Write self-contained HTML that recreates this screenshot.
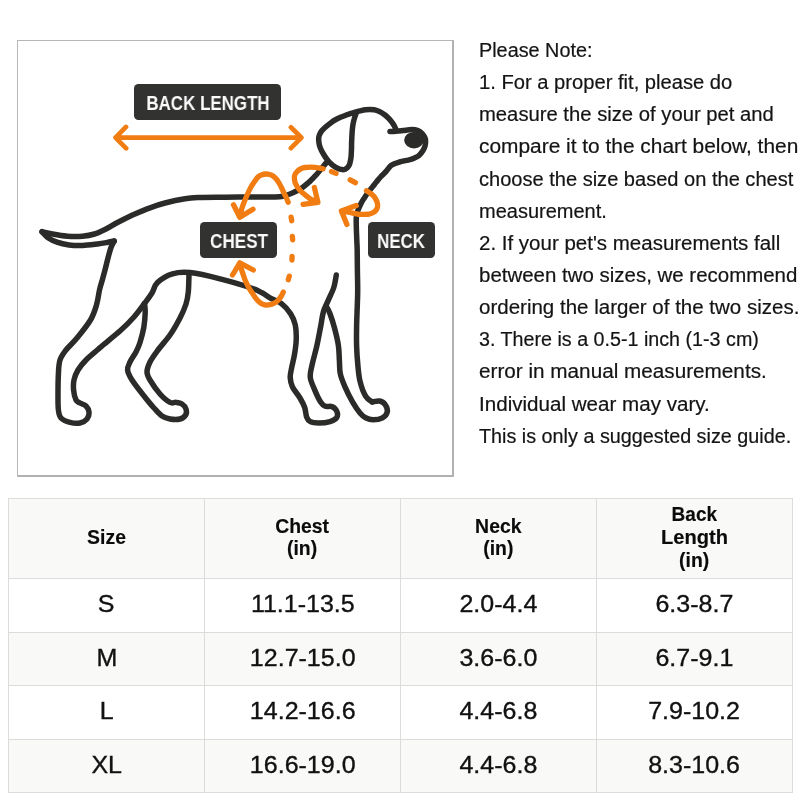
<!DOCTYPE html>
<html><head><meta charset="utf-8"><title>Size Guide</title>
<style>
*{margin:0;padding:0;box-sizing:border-box}
html,body{width:800px;height:800px;background:#fff;overflow:hidden}
body{position:relative;font-family:"Liberation Sans",sans-serif;color:#111}
.abs{position:absolute}
.box{left:17px;top:40px;width:437px;height:437px;border:solid #b6b6b8;border-width:1px 2px 2px 1px;border-right-color:#b1b1b1;border-bottom-color:#b1b1b1;border-radius:1px;background:#fff}
.ln{position:absolute;left:479.2px;white-space:nowrap;font-size:19.5px;line-height:24px;height:24px;color:#141414;-webkit-text-stroke:0.2px #141414}
.ln span{display:inline-block;transform-origin:0 50%}
.ln,.lt,table{will-change:transform}
.lbl{position:absolute;background:#323231;border-radius:4.5px}
.lt{position:absolute;width:0;white-space:nowrap;color:#fbfbfb;font-weight:bold}
.lt span{display:inline-block;transform-origin:50% 50%}
table{position:absolute;left:8px;top:498px;border-collapse:collapse;table-layout:fixed}
td,th{border:1px solid #dcdcdc;text-align:center;vertical-align:middle;padding:0}
th{background:#f9f9f8;font-size:19.5px;line-height:22.7px;font-weight:bold;height:80px;color:#0b0b0b;padding-bottom:2.6px;-webkit-text-stroke:0.15px #0b0b0b}
td{font-size:24px;height:54px;color:#111;padding-bottom:3.0px;-webkit-text-stroke:0.35px #111}
tr.g td{background:#f9f9f8;height:53px}
td span,th span{display:inline-block;transform-origin:50% 50%}
td span{transform:scaleX(1.042)}
th span{transform:scaleX(0.995)}
</style></head>
<body>
<div class="abs box"></div>
<svg class="abs" style="left:0;top:0" width="480" height="480" viewBox="0 0 480 480">
<g fill="none" stroke="#2b2b2a" stroke-width="5.5" stroke-linecap="round" stroke-linejoin="round">
<path d="M42.0 231.7 C43.8 232.1 48.2 233.2 52.5 234.0 C56.8 234.8 62.5 235.8 67.5 236.2 C72.5 236.6 78.0 236.6 82.5 236.2 C87.0 235.8 90.8 235.1 94.5 234.0 C98.2 232.9 101.2 231.4 105.0 229.5 C108.8 227.6 112.5 225.1 117.0 222.8 C121.5 220.4 126.5 217.8 132.0 215.2 C137.5 212.8 144.5 209.8 150.0 207.8 C155.5 205.7 159.2 204.5 165.0 203.0 C170.8 201.5 179.2 199.7 185.0 198.8 C190.8 197.8 193.3 197.8 200.0 197.5 C206.7 197.2 215.8 197.3 225.0 197.2 C234.2 197.1 246.7 197.1 255.0 197.0 C263.3 196.9 270.3 197.0 275.0 196.9 C279.7 196.8 280.5 196.7 283.0 196.2 C285.5 195.7 287.8 194.8 290.0 194.0 C292.2 193.2 293.9 192.4 296.0 191.3 C298.1 190.2 300.5 188.9 302.5 187.5 C304.5 186.1 306.3 184.5 308.0 183.0 C309.7 181.5 311.0 180.2 312.5 178.8 C314.0 177.2 315.5 175.7 317.0 174.0 C318.5 172.3 319.5 170.9 321.2 168.8 C323.0 166.6 326.5 162.5 327.5 161.2"/>
<path d="M42.0 231.7 C43.0 232.7 45.5 236.0 48.0 237.8 C50.5 239.5 53.5 241.0 57.0 242.2 C60.5 243.5 64.8 244.5 69.0 245.0 C73.2 245.5 77.8 245.7 82.5 245.5 C87.2 245.3 93.2 244.5 97.5 244.0 C101.8 243.5 105.2 242.8 108.0 242.3 C110.8 241.8 113.2 241.2 114.2 241.0"/>
<path d="M114.2 241.0 C113.7 242.1 112.0 244.7 111.0 247.5 C110.0 250.3 109.0 254.2 108.0 258.0 C107.0 261.8 106.0 266.2 105.0 270.0 C104.0 273.8 102.9 277.7 102.0 281.0 C101.1 284.3 100.4 286.0 99.5 290.0 C98.6 294.0 98.0 300.0 96.5 305.0 C95.0 310.0 93.8 314.5 90.5 320.0 C87.2 325.5 81.1 333.0 77.0 338.0 C72.9 343.0 68.8 346.3 66.0 350.0 C63.2 353.7 61.3 356.0 60.0 360.0 C58.7 364.0 58.7 368.3 58.4 374.0 C58.1 379.7 58.0 388.0 58.0 394.0 C58.0 400.0 57.9 406.0 58.4 410.0 C58.9 414.0 59.1 415.9 61.0 418.0 C62.9 420.1 66.8 421.6 70.0 422.4 C73.2 423.2 77.2 423.6 80.0 423.0 C82.8 422.4 85.5 420.8 87.0 419.0 C88.5 417.2 89.2 414.2 89.0 412.0 C88.8 409.8 87.5 407.5 86.0 406.0 C84.5 404.5 81.7 404.0 80.0 403.0 C78.3 402.0 77.1 402.2 76.0 400.0 C74.9 397.8 73.9 393.3 73.6 390.0 C73.3 386.7 73.3 383.3 74.0 380.0 C74.7 376.7 76.0 373.3 78.0 370.0 C80.0 366.7 82.7 363.4 86.0 360.0 C89.3 356.6 95.2 351.9 98.0 349.5 C100.8 347.1 98.8 348.7 102.5 345.5 C106.2 342.3 115.2 335.2 120.5 330.5 C125.8 325.8 130.0 321.5 134.0 317.0 C138.0 312.5 141.5 307.5 144.5 303.5 C147.5 299.5 149.8 296.5 152.0 293.0 C154.2 289.5 154.1 285.7 157.5 282.5 C160.9 279.3 167.1 275.4 172.5 273.8 C177.9 272.1 182.1 271.7 190.0 272.5 C197.9 273.3 210.0 276.2 220.0 278.8 C230.0 281.2 243.0 285.2 250.0 287.5 C257.0 289.8 258.7 291.1 262.0 292.8 C265.3 294.5 266.8 296.0 270.0 297.8 C273.2 299.6 277.8 300.7 281.2 303.4 C284.7 306.1 288.3 310.1 290.6 313.8 C292.9 317.4 294.4 320.6 295.3 325.0 C296.2 329.4 296.4 335.0 296.2 340.0 C296.1 345.0 295.2 350.3 294.4 355.0 C293.6 359.7 292.3 364.2 291.6 368.0 C290.9 371.8 290.1 374.3 290.2 377.5 C290.4 380.7 290.9 383.6 292.5 387.0 C294.1 390.4 298.0 394.6 300.0 398.0 C302.0 401.4 303.6 404.3 304.7 407.5 C305.8 410.7 305.7 414.6 306.6 417.0 C307.5 419.4 308.3 420.6 310.3 421.6 C312.3 422.6 315.5 423.0 318.8 423.0 C322.0 423.0 327.0 422.5 330.0 421.6 C333.0 420.7 335.5 419.5 336.6 417.8 C337.7 416.1 337.6 413.1 336.8 411.2 C336.0 409.4 333.8 407.4 331.9 406.6 C330.0 405.8 327.2 407.1 325.3 406.3 C323.4 405.5 322.3 404.6 320.6 402.0 C318.9 399.4 316.7 394.7 315.0 390.6 C313.3 386.5 310.8 381.9 310.3 377.5 C309.8 373.1 311.1 369.7 312.2 364.4 C313.3 359.1 315.5 351.9 316.9 345.6 C318.3 339.4 319.5 332.5 320.6 326.9 C321.7 321.3 322.1 316.3 323.4 311.9 C324.6 307.5 326.4 304.7 328.1 300.6 C329.8 296.5 332.4 291.8 333.8 287.5 C335.1 283.2 335.9 277.1 336.3 275.0"/>
<path d="M144.5 303.5 C144.6 305.0 145.4 308.5 145.2 312.5 C145.1 316.5 144.6 322.5 143.8 327.5 C142.9 332.5 141.3 338.4 140.0 342.5 C138.7 346.6 137.7 348.8 136.0 352.0 C134.3 355.2 131.4 359.0 130.0 362.0 C128.6 365.0 127.3 367.0 127.6 370.0 C127.9 373.0 129.3 375.7 132.0 380.0 C134.7 384.3 140.3 391.3 144.0 396.0 C147.7 400.7 151.0 404.7 154.0 408.0 C157.0 411.3 159.3 414.2 162.0 416.0 C164.7 417.8 167.0 418.5 170.0 419.0 C173.0 419.5 177.4 419.7 180.0 419.0 C182.6 418.3 184.6 416.7 185.6 415.0 C186.6 413.3 186.6 410.8 186.0 409.0 C185.4 407.2 183.7 405.1 182.0 404.0 C180.3 402.9 178.0 402.7 176.0 402.4 C174.0 402.1 172.7 403.8 170.0 402.4 C167.3 401.0 163.3 397.7 160.0 394.0 C156.7 390.3 152.2 383.7 150.0 380.0 C147.8 376.3 147.0 375.0 147.0 372.0 C147.0 369.0 148.2 365.7 150.0 362.0 C151.8 358.3 154.7 354.5 158.0 350.0 C161.3 345.5 166.3 340.3 170.0 335.0 C173.7 329.7 177.3 323.2 180.0 318.0 C182.7 312.8 184.6 308.3 186.0 304.0 C187.4 299.7 187.8 297.0 188.3 292.0 C188.8 287.0 188.9 277.0 189.0 274.0"/>
<path d="M326.2 306.2 C326.9 307.5 328.6 310.0 330.0 313.8 C331.4 317.5 333.3 323.4 334.7 328.8 C336.1 334.1 337.6 340.3 338.4 345.6 C339.2 350.9 339.1 355.9 339.4 360.6 C339.7 365.3 339.4 369.4 340.3 373.8 C341.2 378.1 343.0 382.2 345.0 386.9 C347.0 391.6 350.0 397.5 352.5 401.9 C355.0 406.2 357.8 410.4 360.0 413.0 C362.2 415.6 363.4 416.7 365.6 417.8 C367.8 418.9 370.3 419.7 373.1 419.7 C375.9 419.7 380.1 419.1 382.5 417.8 C384.9 416.6 386.7 414.4 387.2 412.2 C387.7 410.0 386.6 406.6 385.3 404.7 C384.1 402.8 381.9 401.5 379.7 401.0 C377.5 400.5 373.4 401.8 372.2 401.9"/>
<path d="M390.0 131.5 C391.0 131.5 393.8 131.5 396.0 131.3 C398.2 131.2 400.4 130.9 403.0 130.6 C405.6 130.3 409.1 129.6 411.6 129.6 C414.1 129.6 416.2 129.9 418.0 130.6 C419.8 131.3 421.1 132.4 422.2 133.6 C423.3 134.8 424.2 136.2 424.8 137.5 C425.4 138.8 425.6 140.1 425.6 141.5 C425.6 142.9 425.4 144.5 425.0 146.0 C424.6 147.5 424.0 148.9 423.0 150.5 C422.0 152.1 420.4 154.2 419.0 155.5 C417.6 156.8 416.0 157.3 414.5 158.0 C413.0 158.7 412.5 158.9 410.0 159.6 C407.5 160.3 402.5 161.1 399.4 162.0 C396.3 162.9 393.5 163.7 391.3 165.3 C389.1 166.9 387.7 169.7 386.0 171.5 C384.3 173.3 382.8 174.6 381.2 176.2 C379.7 177.9 378.3 179.7 376.8 181.5 C375.3 183.3 374.0 185.0 372.5 186.9 C371.0 188.8 369.5 190.7 368.0 192.7 C366.5 194.7 365.0 196.8 363.8 198.8 C362.5 200.7 361.4 202.6 360.5 204.5 C359.6 206.4 358.8 208.2 358.1 210.0 C357.5 211.8 356.9 213.3 356.6 215.0 C356.3 216.7 356.3 217.5 356.2 220.0 C356.2 222.5 356.3 226.7 356.4 230.0 C356.5 233.3 356.7 236.7 356.8 240.0 C356.9 243.3 357.1 245.0 357.2 250.0 C357.3 255.0 357.3 263.3 357.4 270.0 C357.5 276.7 357.7 283.7 357.7 290.0 C357.7 296.3 357.4 301.9 357.2 308.0 C357.0 314.1 356.7 320.6 356.6 326.9 C356.5 333.2 356.4 339.4 356.6 345.6 C356.8 351.9 357.2 358.5 357.8 364.4 C358.3 370.3 358.7 375.9 360.0 381.2 C361.3 386.6 363.6 392.8 365.6 396.2 C367.6 399.7 371.1 401.0 372.2 401.9"/>
<path d="M356.5 112.3 C356.2 113.2 355.1 116.1 354.5 118.0 C353.9 119.9 353.5 121.8 353.1 123.8 C352.7 125.8 352.5 127.9 352.3 130.0 C352.1 132.1 352.0 134.2 351.9 136.2 C351.8 138.3 351.7 140.4 351.6 142.5 C351.5 144.6 351.6 146.7 351.5 148.8 C351.4 150.8 351.3 153.1 351.2 155.0 C351.1 156.9 350.9 158.4 350.6 160.0 C350.3 161.6 350.0 163.2 349.5 164.5 C349.0 165.8 348.2 166.7 347.5 167.5 C346.8 168.3 346.0 168.8 345.2 169.2 C344.4 169.5 343.5 169.7 342.5 169.6 C341.5 169.5 340.2 169.2 339.0 168.8 C337.8 168.4 336.3 167.7 335.0 166.9 C333.7 166.1 332.2 165.0 331.0 163.8 C329.8 162.7 328.7 161.5 327.5 160.0 C326.3 158.5 325.0 156.7 324.0 155.0 C323.0 153.3 322.0 151.6 321.2 150.0 C320.5 148.4 319.9 147.0 319.5 145.5 C319.1 144.0 318.9 142.5 318.8 141.2 C318.6 140.0 318.6 139.0 318.7 138.0 C318.8 137.0 318.9 136.2 319.4 135.0 C319.9 133.8 320.7 132.2 321.6 131.0 C322.5 129.8 323.6 128.8 325.0 127.5 C326.4 126.2 328.3 124.8 330.0 123.5 C331.7 122.2 333.2 121.0 335.0 120.0 C336.8 119.0 338.6 118.1 340.5 117.3 C342.4 116.5 344.5 115.7 346.2 115.0 C348.0 114.3 349.3 113.8 351.0 113.3 C352.7 112.8 354.5 112.4 356.2 111.9 C358.0 111.5 359.7 111.0 361.2 110.6 C362.8 110.2 364.0 109.9 365.5 109.7 C367.0 109.5 368.6 109.4 370.0 109.4 C371.4 109.4 372.8 109.5 374.0 109.7 C375.2 109.9 376.2 110.2 377.5 110.7 C378.8 111.2 380.2 111.9 381.5 112.6 C382.8 113.3 383.9 114.1 385.0 115.0 C386.1 115.9 387.3 117.0 388.3 118.0 C389.3 119.0 390.4 120.2 391.2 121.2 C392.1 122.3 392.8 123.4 393.5 124.5 C394.2 125.6 394.9 127.0 395.3 128.0 C395.7 129.0 395.9 129.9 396.0 130.3"/>
</g>
<ellipse fill="#2b2b2a" cx="414" cy="140.2" rx="9.8" ry="8.3"/>
<g fill="none" stroke="#f07c12" stroke-width="5.3" stroke-linecap="round" stroke-linejoin="round">
<path stroke-width="4.7" d="M115.6 137.6 L301.3 137.6 M126 126.9 L115.5 137.6 L126.2 148.3 M290.9 127.3 L301.4 137.6 L290.9 148.2"/>
<path d="M240.0 216.0 C240.3 214.7 241.2 210.7 242.0 208.0 C242.8 205.3 244.0 202.5 245.0 200.0 C246.0 197.5 247.0 195.2 248.0 193.0 C249.0 190.8 249.9 188.9 251.0 187.0 C252.1 185.1 253.3 183.2 254.5 181.5 C255.7 179.8 256.8 178.1 258.0 177.0 C259.2 175.9 260.7 175.3 262.0 174.8 C263.3 174.3 264.7 174.1 266.0 174.0 C267.3 173.9 268.6 174.2 269.8 174.5 C271.0 174.8 271.9 175.2 273.0 176.0 C274.1 176.8 275.3 177.8 276.3 179.0 C277.3 180.2 278.1 181.5 279.0 183.0 C279.9 184.5 280.9 186.3 281.7 188.0 C282.5 189.7 283.2 191.4 284.0 193.0 C284.8 194.6 285.5 195.9 286.2 197.5 C286.9 199.1 287.9 201.5 288.2 202.3"/>
<path d="M233.5 204.8 L239.8 217.3 L253 209.3"/>
<path d="M291.08 217.1 L291.72 220.7 M292.3 236.3 L292.7 239.9 M292.1 256.4 L291.9 260 M289.3 276.1 L288.3 279.7"/>
<path d="M283.3 292.0 C282.9 292.8 281.8 295.2 281.0 296.5 C280.2 297.8 279.5 298.9 278.4 300.0 C277.3 301.1 275.9 302.2 274.5 303.0 C273.1 303.8 271.5 304.4 270.0 304.7 C268.5 305.0 266.9 305.1 265.5 305.0 C264.1 304.9 263.0 304.7 261.6 303.8 C260.2 302.9 258.4 301.4 257.0 299.8 C255.6 298.2 254.4 296.4 253.1 294.4 C251.8 292.4 250.2 290.2 249.0 288.0 C247.8 285.8 246.6 283.6 245.6 281.3 C244.6 279.0 243.8 276.2 243.0 274.0 C242.2 271.8 241.5 269.7 241.0 268.0 C240.5 266.3 240.2 264.7 240.0 264.0"/>
<path d="M232.5 275 L239.8 262.8 L253.3 270"/>
<path d="M323.1 168.8 C321.8 168.5 318.0 167.5 315.0 167.3 C312.0 167.1 307.4 167.2 305.0 167.5 C302.6 167.8 301.8 168.4 300.5 169.0 C299.2 169.6 298.4 170.3 297.5 171.2 C296.6 172.2 295.5 173.4 295.0 174.5 C294.5 175.6 294.4 176.8 294.4 178.1 C294.4 179.4 294.6 180.9 295.0 182.3 C295.4 183.7 296.1 184.9 296.9 186.2 C297.7 187.6 298.9 188.9 300.0 190.2 C301.1 191.4 302.5 192.7 303.8 193.8 C305.0 194.8 306.2 195.9 307.5 196.8 C308.8 197.7 309.8 198.6 311.2 199.4 C312.8 200.2 315.6 201.4 316.5 201.8"/>
<path d="M314.4 187.5 L317.9 202.4 L303.1 204.4"/>
<path d="M331.5 171.6 L336 173.4 M350.15 179.85 L355.35 182.65"/>
<path d="M366.5 190.8 C367.1 191.2 369.1 192.4 370.3 193.3 C371.5 194.2 372.8 195.1 373.8 196.2 C374.7 197.4 375.6 198.8 376.2 200.0 C376.8 201.2 377.3 202.6 377.5 203.8 C377.7 204.9 377.7 206.0 377.5 207.0 C377.3 208.0 376.9 209.1 376.2 210.0 C375.6 210.9 374.7 211.7 373.7 212.3 C372.7 212.9 371.4 213.4 370.0 213.8 C368.6 214.1 366.7 214.3 365.0 214.4 C363.3 214.5 361.7 214.5 360.0 214.4 C358.3 214.3 356.7 213.9 355.0 213.6 C353.3 213.3 352.1 212.9 350.0 212.5 C347.9 212.1 343.8 211.5 342.5 211.2"/>
<path d="M356.25 205.6 L341.4 211 L346.9 224.4"/>
</g></svg>
<div class="lbl" style="left:133.9px;top:83.9px;width:147.3px;height:35.7px"></div><div class="lt" style="left:207.8px;top:94.01px;font-size:19.48px;line-height:19.48px"><span style="transform:translateX(-50%) scaleX(0.870)">BACK LENGTH</span></div>
<div class="lbl" style="left:200.4px;top:222.0px;width:76.2px;height:35.7px"></div><div class="lt" style="left:238.6px;top:231.89px;font-size:19.62px;line-height:19.62px"><span style="transform:translateX(-50%) scaleX(0.872)">CHEST</span></div>
<div class="lbl" style="left:367.6px;top:222.0px;width:67.2px;height:35.7px"></div><div class="lt" style="left:401.3px;top:231.89px;font-size:19.62px;line-height:19.62px"><span style="transform:translateX(-50%) scaleX(0.859)">NECK</span></div>
<div class="ln" style="top:37.94px"><span style="transform:scaleX(1.016)">Please Note:</span></div>
<div class="ln" style="top:70.09px"><span style="transform:scaleX(1.034)">1. For a proper fit, please do</span></div>
<div class="ln" style="top:102.24px"><span style="transform:scaleX(1.038)">measure the size of your pet and</span></div>
<div class="ln" style="top:134.39px"><span style="transform:scaleX(1.071)">compare it to the chart below, then</span></div>
<div class="ln" style="top:166.54px"><span style="transform:scaleX(1.028)">choose the size based on the chest</span></div>
<div class="ln" style="top:198.69px"><span style="transform:scaleX(1.025)">measurement.</span></div>
<div class="ln" style="top:230.84px"><span style="transform:scaleX(1.051)">2. If your pet&#39;s measurements fall</span></div>
<div class="ln" style="top:262.99px"><span style="transform:scaleX(1.049)">between two sizes, we recommend</span></div>
<div class="ln" style="top:295.14px"><span style="transform:scaleX(1.052)">ordering the larger of the two sizes.</span></div>
<div class="ln" style="top:327.29px"><span style="transform:scaleX(1.010)">3. There is a 0.5-1 inch (1-3 cm)</span></div>
<div class="ln" style="top:359.44px"><span style="transform:scaleX(1.062)">error in manual measurements.</span></div>
<div class="ln" style="top:391.59px"><span style="transform:scaleX(1.056)">Individual wear may vary.</span></div>
<div class="ln" style="top:423.74px"><span style="transform:scaleX(1.014)">This is only a suggested size guide.</span></div>
<table>
<colgroup><col style="width:196px"><col style="width:196px"><col style="width:196px"><col style="width:196px"></colgroup>
<tr><th><span>Size</span></th><th><span>Chest<br>(in)</span></th><th><span>Neck<br>(in)</span></th><th><span style="transform:scaleX(0.975)">Back</span><br><span style="transform:scaleX(1.03)">Length</span><br><span>(in)</span></th></tr>
<tr><td><span>S</span></td><td><span>11.1-13.5</span></td><td><span>2.0-4.4</span></td><td><span>6.3-8.7</span></td></tr>
<tr class="g"><td><span>M</span></td><td><span>12.7-15.0</span></td><td><span>3.6-6.0</span></td><td><span>6.7-9.1</span></td></tr>
<tr><td><span>L</span></td><td><span>14.2-16.6</span></td><td><span>4.4-6.8</span></td><td><span>7.9-10.2</span></td></tr>
<tr class="g"><td><span>XL</span></td><td><span>16.6-19.0</span></td><td><span>4.4-6.8</span></td><td><span>8.3-10.6</span></td></tr>
</table>

</body></html>
